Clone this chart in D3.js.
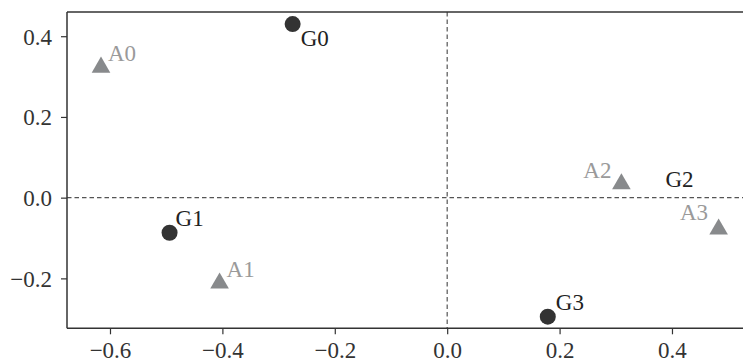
<!DOCTYPE html>
<html>
<head>
<meta charset="utf-8">
<script src="https://cdn.jsdelivr.net/npm/d3@7"></script>
<style>
html,body{margin:0;padding:0;background:#fff;}
svg{display:block;}
text{font-family:"Liberation Serif","Times New Roman",serif;}
</style>
</head>
<body>
<div id="chart"></div>
<script>
// ---- data ----
const labels = ["G0","G1","G2","G3","A0","A1","A2","A3"];
const groups = ["G","G","G","G","A","A","A","A"];
const xValues = [-0.275,-0.494,0.57,0.179,-0.616,-0.405,0.310,0.483];
const yValues = [0.430,-0.087,0.020,-0.295,0.323,-0.212,0.034,-0.078];
const xTicks = [-0.6,-0.4,-0.2,0.0,0.2,0.4];
const yTicks = [-0.2,0.0,0.2,0.4];
const xDomain = [-0.6765, 0.5246];
const yDomain = [-0.3237, 0.460];

// label placement (pixel offsets from the marker, text anchor)
const labelPlace = {
  G0:{dx:8,dy:22,anchor:"start"},
  G1:{dx:6,dy:-7,anchor:"start"},
  G2:{dx:-74,dy:-3,anchor:"end"},
  G3:{dx:8,dy:-7,anchor:"start"},
  A0:{dx:7,dy:-6.5,anchor:"start"},
  A1:{dx:7,dy:-6.5,anchor:"start"},
  A2:{dx:-10,dy:-6,anchor:"end"},
  A3:{dx:-10.5,dy:-9,anchor:"end"}
};

const W=743,H=360;
const m={left:67,top:12,right:1,bottom:31.7};
const svg=d3.select("#chart").append("svg").attr("width",W).attr("height",H);
const x=d3.scaleLinear().domain(xDomain).range([m.left,W-m.right]);
const y=d3.scaleLinear().domain(yDomain).range([H-m.bottom,m.top]);
const fmt=d3.format(".1f");
const axisColor="#333";
const fs=23;

svg.append("defs").append("clipPath").attr("id","clip")
  .append("rect").attr("x",m.left).attr("y",m.top)
  .attr("width",W-m.right-m.left).attr("height",H-m.bottom-m.top);

// reference lines
svg.append("line").attr("x1",x(0)).attr("x2",x(0)).attr("y1",m.top).attr("y2",H-m.bottom)
  .attr("stroke","#555").attr("stroke-width",1.2).attr("stroke-dasharray","4.5,3");
svg.append("line").attr("x1",m.left).attr("x2",W).attr("y1",y(0)).attr("y2",y(0))
  .attr("stroke","#555").attr("stroke-width",1.2).attr("stroke-dasharray","4.5,3");

// axes
const gx=svg.append("g").attr("transform",`translate(0,${H-m.bottom})`)
  .call(d3.axisBottom(x).tickValues(xTicks).tickFormat(fmt).tickSize(6).tickPadding(7.5));
const gy=svg.append("g").attr("transform",`translate(${m.left},0)`)
  .call(d3.axisLeft(y).tickValues(yTicks).tickFormat(fmt).tickSize(6).tickPadding(9));
[gx,gy].forEach(g=>{
  g.select(".domain").remove();
  g.selectAll("line").attr("stroke",axisColor).attr("stroke-width",1.2);
  g.selectAll("text").attr("fill",axisColor).style("font-size",fs+"px")
   .style("font-family","'Liberation Serif','Times New Roman',serif");
});
gy.selectAll("text").attr("dy","0.35em");
// spines: left, top, bottom
svg.append("line").attr("x1",m.left).attr("x2",m.left).attr("y1",m.top).attr("y2",H-m.bottom)
  .attr("stroke",axisColor).attr("stroke-width",1.5);
svg.append("line").attr("x1",m.left).attr("x2",W).attr("y1",m.top).attr("y2",m.top)
  .attr("stroke",axisColor).attr("stroke-width",1.5);
svg.append("line").attr("x1",m.left).attr("x2",W).attr("y1",H-m.bottom).attr("y2",H-m.bottom)
  .attr("stroke",axisColor).attr("stroke-width",1.5);

const data=labels.map((l,i)=>({label:l,group:groups[i],x:xValues[i],y:yValues[i]}));

// markers
const mk=svg.append("g").attr("clip-path","url(#clip)");
mk.selectAll("path").data(data).join("path")
  .attr("transform",d=>`translate(${x(d.x)},${y(d.y)})`)
  .attr("d",d=>d.group==="G"
     ? d3.symbol().type(d3.symbolCircle).size(Math.PI*8*8)()
     : d3.symbol().type(d3.symbolTriangle).size(150)())
  .attr("fill",d=>d.group==="G"?"#333333":"#888a8c");

// labels
svg.append("g").selectAll("text").data(data).join("text")
  .attr("x",d=>x(d.x)+labelPlace[d.label].dx)
  .attr("y",d=>y(d.y)+labelPlace[d.label].dy)
  .attr("text-anchor",d=>labelPlace[d.label].anchor)
  .attr("fill",d=>d.group==="G"?"#222":"#9a9a9a")
  .style("font-size",fs+"px")
  .text(d=>d.label);
</script>
</body>
</html>
